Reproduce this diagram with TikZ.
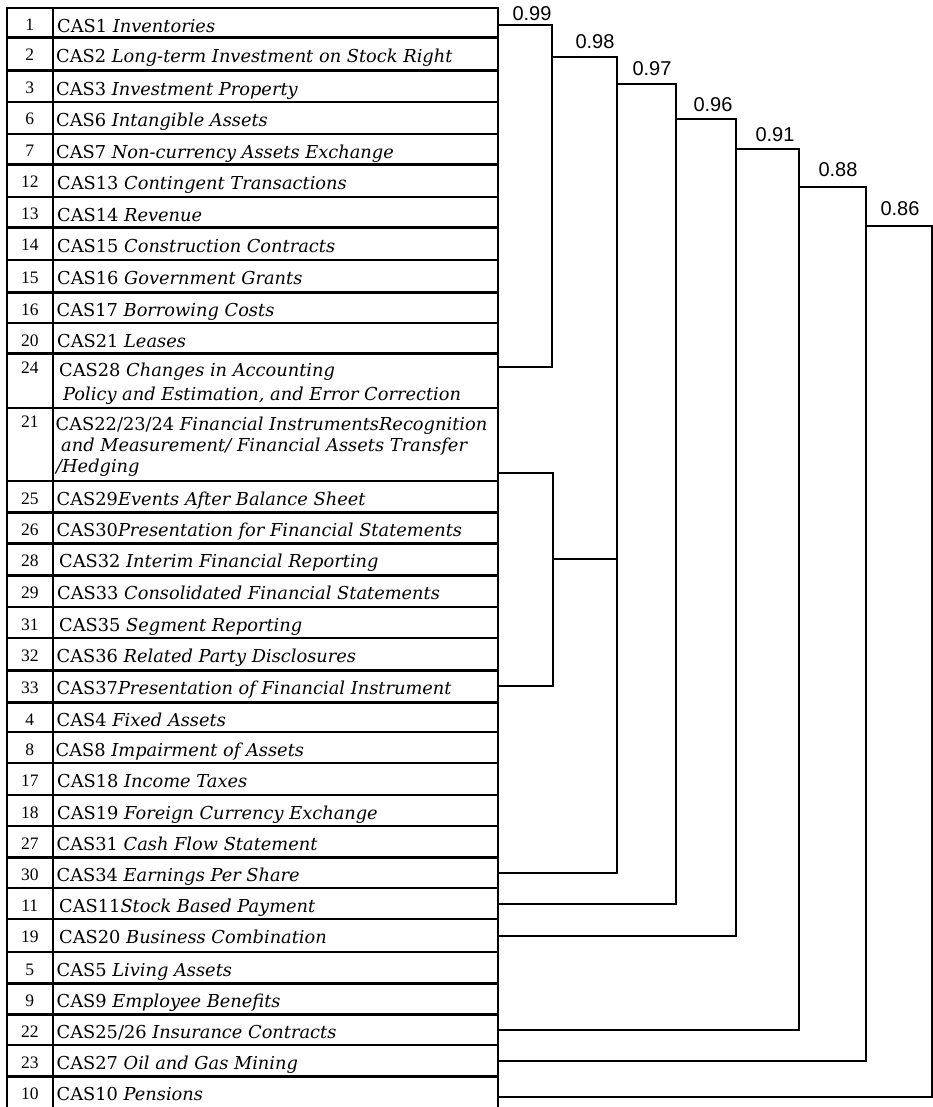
\documentclass[tikz,border=0pt]{standalone}
\usepackage{fontspec}
\setmainfont{DejaVu Serif}
\newfontfamily\numfont{Liberation Serif}
\newfontfamily\labfont{Liberation Sans}
\tikzset{
  cellbox/.style={draw=black, line width=2pt, inner sep=0pt, outer sep=0pt, minimum width=46.5pt},
  rowbox/.style={draw=black, line width=2pt, inner sep=0pt, outer sep=0pt, minimum width=445pt},
  numtxt/.style={anchor=base, inner sep=0pt, font=\numfont\fontsize{17.5}{19}\selectfont},
  rowtxt/.style={anchor=base west, inner sep=0pt, font=\fontsize{17.8}{21}\selectfont},
  lab/.style={anchor=base, inner sep=0pt, font=\labfont\fontsize{20}{22}\selectfont},
  dend/.style={line width=2pt, line cap=rect},
  sepline/.style={line width=3pt}
}
\newcommand\tabrow[5]{%
  \node[cellbox, minimum height={#3-#2}] (c#1) at (29.75,{(#2+#3)/2}) {};
  \node[rowbox, minimum height={#3-#2}] (r#1) at (275.5,{(#2+#3)/2}) {};
  \node[numtxt] (n#1) at (29.75,{#2+23}) {#1};
  \node[rowtxt] (t#1) at (#4,{#2+24.5}) {#5};
}
\begin{document}
\begin{tikzpicture}[x=1pt,y=-1pt]
\useasboundingbox (0,0) rectangle (933,1107);
% ---- table rows ----
\tabrow{1}{8}{38}{57}{CAS1 \itshape Inventories}
\tabrow{2}{38}{71}{56}{CAS2 \itshape Long-term Investment on Stock Right}
\tabrow{3}{71}{102}{56}{CAS3 \itshape Investment Property}
\tabrow{6}{102}{134}{56}{CAS6 \itshape Intangible Assets}
\tabrow{7}{134}{165}{56}{CAS7 \itshape Non-currency Assets Exchange}
\tabrow{12}{165}{197}{57}{CAS13 \itshape Contingent Transactions}
\tabrow{13}{197}{228}{57}{CAS14 \itshape Revenue}
\tabrow{14}{228}{260}{57}{CAS15 \itshape Construction Contracts}
\tabrow{15}{260}{292}{57}{CAS16 \itshape Government Grants}
\tabrow{16}{292}{323}{56.5}{CAS17 \itshape Borrowing Costs}
\tabrow{20}{323}{353}{57}{CAS21 \itshape Leases}
% row 24 (two lines)
\node[cellbox, minimum height=55] (c24) at (29.75,380.5) {};
\node[rowbox, minimum height=55] (r24) at (275.5,380.5) {};
\node[numtxt] (n24) at (29.75,373) {24};
\node[rowtxt] (t24a) at (59,376) {CAS28 \itshape Changes in Accounting};
\node[rowtxt] (t24b) at (63,400) {\itshape Policy and Estimation, and Error Correction};
% row 21 (three lines)
\node[cellbox, minimum height=73] (c21) at (29.75,444.5) {};
\node[rowbox, minimum height=73] (r21) at (275.5,444.5) {};
\node[numtxt] (n21) at (29.75,427) {21};
\node[rowtxt] (t21a) at (55.5,430) {CAS22/23/24 \itshape Financial InstrumentsRecognition};
\node[rowtxt] (t21b) at (61,451) {\itshape and Measurement/ Financial Assets Transfer};
\node[rowtxt] (t21c) at (56,472) {\itshape /Hedging};
\tabrow{25}{481}{512}{56.5}{CAS29\itshape Events After Balance Sheet}
\tabrow{26}{512}{543}{56.5}{CAS30\itshape Presentation for Financial Statements}
\tabrow{28}{543}{575}{59}{CAS32 \itshape Interim Financial Reporting}
\tabrow{29}{575}{607}{57}{CAS33 \itshape Consolidated Financial Statements}
\tabrow{31}{607}{638}{59}{CAS35 \itshape Segment Reporting}
\tabrow{32}{638}{670}{56.5}{CAS36 \itshape Related Party Disclosures}
\tabrow{33}{670}{702}{56.5}{CAS37\itshape Presentation of Financial Instrument}
\tabrow{4}{702}{732}{56.5}{CAS4 \itshape Fixed Assets}
\tabrow{8}{732}{763}{55.5}{CAS8 \itshape Impairment of Assets}
\tabrow{17}{763}{795}{57}{CAS18 \itshape Income Taxes}
\tabrow{18}{795}{826}{57}{CAS19 \itshape Foreign Currency Exchange}
\tabrow{27}{826}{857}{56.5}{CAS31 \itshape Cash Flow Statement}
\tabrow{30}{857}{888}{56.5}{CAS34 \itshape Earnings Per Share}
\tabrow{11}{888}{919}{59}{CAS11\itshape Stock Based Payment}
\tabrow{19}{919}{952}{59}{CAS20 \itshape Business Combination}
\tabrow{5}{952}{983}{56.5}{CAS5 \itshape Living Assets}
\tabrow{9}{983}{1014}{56.5}{CAS9 \itshape Employee Benefits}
\tabrow{22}{1014}{1045}{56.5}{CAS25/26 \itshape Insurance Contracts}
\tabrow{23}{1045}{1076}{56.5}{CAS27 \itshape Oil and Gas Mining}
\tabrow{10}{1076}{1112}{56.5}{CAS10 \itshape Pensions}
% thicker separators
\foreach \k in {1,2,7,13,15,20,25,26,28,32,33,27,5,9,23}
  \draw[sepline] (c\k.south west) -- (r\k.south east);
% ---- dendrogram ----
\coordinate (xA) at (552,0);
\coordinate (xI) at (553,0);
\coordinate (xB) at (617,0);
\coordinate (xC) at (676,0);
\coordinate (xD) at (736,0);
\coordinate (xE) at (799,0);
\coordinate (xF) at (866,0);
\coordinate (xG) at (932,0);
\coordinate (r1e) at ([yshift=-2pt]r1.east);
\coordinate (r24e) at ([yshift=14pt]r24.east);
\coordinate (r21e) at ([yshift=-28.5pt]r21.east);
\coordinate (r10e) at ([yshift=-3pt]r10.east);
\coordinate (hB) at (552,57);
\coordinate (hI) at (553,559);
\coordinate (hC) at (617,84);
\coordinate (hD) at (676,119);
\coordinate (hE) at (736,149);
\coordinate (hF) at (799,187);
\coordinate (hG) at (866,226);
% 0.99
\draw[dend] (r1e) -| (xA |- r24e) -- (r24e);
% inner cluster 21..33
\draw[dend] (r21e) -| (xI |- r33.east) -- (r33.east);
\draw[dend] (hI) -- (xB |- hI);
% 0.98
\draw[dend] (hB) -| (xB |- r30.east) -- (r30.east);
% 0.97
\draw[dend] (hC) -| (xC |- r11.east) -- (r11.east);
% 0.96
\draw[dend] (hD) -| (xD |- r19.east) -- (r19.east);
% 0.91
\draw[dend] (hE) -| (xE |- r22.east) -- (r22.east);
% 0.88
\draw[dend] (hF) -| (xF |- r23.east) -- (r23.east);
% 0.86
\draw[dend] (hG) -| (xG |- r10e) -- (r10e);
% labels
\node[lab] (l99) at (532,21) {0.99};
\node[lab] (l98) at (595,49) {0.98};
\node[lab] (l97) at (652,76) {0.97};
\node[lab] (l96) at (713,112) {0.96};
\node[lab] (l91) at (775,142) {0.91};
\node[lab] (l88) at (838,177) {0.88};
\node[lab] (l86) at (900,215) {0.86};
\end{tikzpicture}
\end{document}
